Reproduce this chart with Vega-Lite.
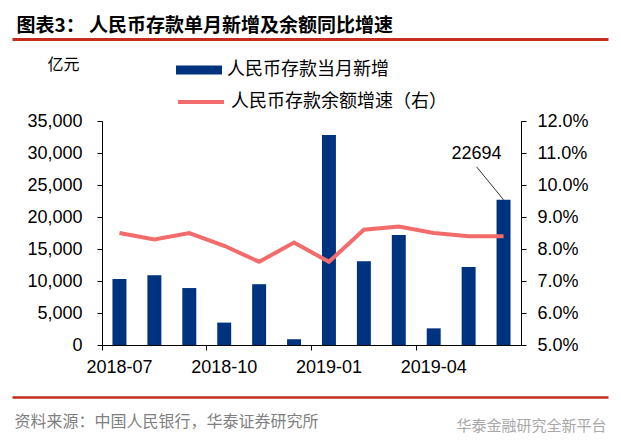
{
  "$schema": "https://vega.github.io/schema/vega-lite/v6.json",
  "width": 419,
  "height": 224,
  "autosize": "none",
  "padding": {"left": 102, "top": 121, "right": 100, "bottom": 102},
  "background": "white",
  "config": {
    "view": {"stroke": null},
    "axis": {"labelFont": "Liberation Sans", "labelFontSize": 18, "labelColor": "#000", "domainColor": "#000", "tickColor": "#000", "grid": false, "titleFontWeight": "normal"}
  },
  "data": {
    "values": [
      {"month": "2018-07", "deposit": 10300, "growth": 0.085},
      {"month": "2018-08", "deposit": 10900, "growth": 0.083},
      {"month": "2018-09", "deposit": 8900, "growth": 0.085},
      {"month": "2018-10", "deposit": 3500, "growth": 0.081},
      {"month": "2018-11", "deposit": 9500, "growth": 0.076},
      {"month": "2018-12", "deposit": 900, "growth": 0.082},
      {"month": "2019-01", "deposit": 32800, "growth": 0.076},
      {"month": "2019-02", "deposit": 13100, "growth": 0.086},
      {"month": "2019-03", "deposit": 17200, "growth": 0.087},
      {"month": "2019-04", "deposit": 2600, "growth": 0.085},
      {"month": "2019-05", "deposit": 12200, "growth": 0.084},
      {"month": "2019-06", "deposit": 22694, "growth": 0.084}
    ]
  },
  "layer": [
    {
      "mark": {"type": "bar", "width": {"band": 0.4}},
      "encoding": {
        "x": {"field": "month", "type": "ordinal", "sort": null,
          "scale": {"paddingInner": 0, "paddingOuter": 0},
          "axis": {"orient": "bottom", "values": ["2018-07", "2018-10", "2019-01", "2019-04"], "bandPosition": 0, "labelAngle": 0, "tickSize": 5, "labelPadding": 8, "labelOverlap": false, "labelBound": false,
            "title": "华泰金融研究全新平台", "titleX": 354, "titleY": 85, "titleAlign": "left", "titleAnchor": null, "titleBaseline": "alphabetic", "titleFont": "Noto Sans CJK SC", "titleFontSize": 15, "titleColor": "#a8a8a8"}},
        "y": {"field": "deposit", "type": "quantitative",
          "scale": {"domain": [0, 35000], "nice": false},
          "axis": {"orient": "left", "values": [0, 5000, 10000, 15000, 20000, 25000, 30000, 35000], "format": ",d", "tickSize": 5, "labelPadding": 15,
            "title": "亿元", "titleAngle": 0, "titleX": -39, "titleY": -57, "titleAlign": "center", "titleBaseline": "middle", "titleFont": "Noto Sans CJK SC", "titleFontSize": 16, "titleColor": "#000"}},
        "fill": {"datum": "人民币存款当月新增", "type": "nominal",
          "scale": {"range": ["#00337F"]},
          "legend": {"orient": "none", "legendX": 74, "legendY": -74, "title": null, "padding": 0, "symbolType": "M-1,-0.2H1V0.2H-1Z", "symbolSize": 2116, "symbolStrokeWidth": 0, "labelFont": "Noto Sans CJK SC", "labelFontSize": 18, "labelColor": "#000", "labelOffset": 5, "labelLimit": 400}}
      }
    },
    {
      "mark": {"type": "line", "strokeWidth": 4},
      "encoding": {
        "x": {"field": "month", "type": "ordinal", "sort": null,
          "scale": {"paddingInner": 0, "paddingOuter": 0}, "axis": null},
        "y": {"field": "growth", "type": "quantitative",
          "scale": {"domain": [0.05, 0.12], "nice": false, "zero": false},
          "axis": {"orient": "right", "values": [0.05, 0.06, 0.07, 0.08, 0.09, 0.1, 0.11, 0.12], "format": ".1%", "tickSize": 5, "labelPadding": 11, "title": null}},
        "stroke": {"datum": "人民币存款余额增速（右）", "type": "nominal",
          "scale": {"range": ["#F26C6C"]},
          "legend": {"orient": "none", "legendX": 74, "legendY": -44, "title": null, "padding": 0, "symbolType": "stroke", "symbolSize": 2116, "symbolStrokeWidth": 4, "labelFont": "Noto Sans CJK SC", "labelFontSize": 18, "labelColor": "#000", "labelOffset": 5, "labelLimit": 400}}
      }
    },
    {
      "transform": [{"filter": "datum.month === '2019-06'"}],
      "mark": {"type": "rule", "color": "#000", "strokeWidth": 0.8, "x2Offset": -27, "y2Offset": -33},
      "encoding": {
        "x": {"field": "month", "type": "ordinal", "scale": {"domain": ["2018-07","2018-08","2018-09","2018-10","2018-11","2018-12","2019-01","2019-02","2019-03","2019-04","2019-05","2019-06"], "paddingInner": 0, "paddingOuter": 0}, "axis": null},
        "x2": {"field": "month"},
        "y": {"field": "deposit", "type": "quantitative", "scale": {"domain": [0, 35000], "nice": false}, "axis": null},
        "y2": {"field": "deposit"}
      }
    },
    {
      "transform": [{"filter": "datum.month === '2019-06'"}],
      "mark": {"type": "text", "font": "Liberation Sans", "fontSize": 18, "color": "#000", "dx": -27, "dy": -46, "align": "center", "baseline": "middle"},
      "encoding": {
        "x": {"field": "month", "type": "ordinal", "scale": {"domain": ["2018-07","2018-08","2018-09","2018-10","2018-11","2018-12","2019-01","2019-02","2019-03","2019-04","2019-05","2019-06"], "paddingInner": 0, "paddingOuter": 0}, "axis": null},
        "y": {"field": "deposit", "type": "quantitative", "scale": {"domain": [0, 35000], "nice": false}, "axis": null},
        "text": {"field": "deposit", "type": "quantitative", "format": "d"}
      }
    },
    {
      "mark": {"type": "rule", "strokeOpacity": 0},
      "encoding": {
        "x": {"field": "deposit", "type": "quantitative",
          "scale": {"range": [-90, 506]},
          "axis": {"orient": "top", "offset": 82, "labels": false, "ticks": false, "grid": false, "domainColor": "#C62D1F", "domainWidth": 3,
            "title": "图表3：  人民币存款单月新增及余额同比增速", "titleX": -86, "titleY": -8, "titleAlign": "left", "titleAnchor": null, "titleBaseline": "alphabetic", "titleFont": "Noto Sans CJK SC", "titleFontSize": 19, "titleFontWeight": "bold", "titleColor": "#000"}}
      }
    },
    {
      "mark": {"type": "rule", "strokeOpacity": 0},
      "encoding": {
        "x": {"field": "deposit", "type": "quantitative",
          "scale": {"range": [-90, 506]},
          "axis": {"orient": "bottom", "offset": 52, "labels": false, "ticks": false, "grid": false, "domainColor": "#C62D1F", "domainWidth": 2.5,
            "title": "资料来源：中国人民银行，华泰证券研究所", "titleX": -88, "titleY": 29, "titleAlign": "left", "titleAnchor": null, "titleBaseline": "alphabetic", "titleFont": "Noto Sans CJK SC", "titleFontSize": 16, "titleColor": "#808080"}}
      }
    }
  ],
  "resolve": {"scale": {"x": "independent", "y": "independent"}, "axis": {"x": "independent", "y": "independent"}}
}
